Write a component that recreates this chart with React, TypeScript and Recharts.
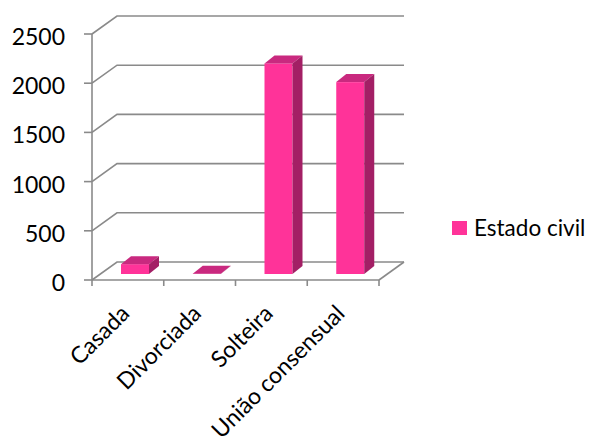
import React from "react";
import { BarChart, Bar, XAxis, YAxis, CartesianGrid, Legend } from "recharts";

const categories = ["Casada", "Divorciada", "Solteira", "União consensual"];
const estadoCivil = [100, 3, 2140, 1950];
const yTicks = [0, 500, 1000, 1500, 2000, 2500];

const data = categories.map((name, i) => ({
  name,
  "Estado civil": estadoCivil[i],
}));

const FONT = "Lato, 'Open Sans', sans-serif";
const GRID = "#8a8a8a";
const FRONT = "#FF3399";
const TOP = "#C9297F";
const SIDE = "#A31F65";

// fake 3d: how far the back wall / bars sit behind the front plane
const WALL_DX = 25;
const WALL_DY = -18;
const BAR_DX = 7;
const BAR_DY = -6;
const DEPTH_X = 10;
const DEPTH_Y = -8;

const PLOT_W = 287;
const BAND = PLOT_W / categories.length;

const GridLine = (props: any) => {
  const { x1, y1, x2 } = props;
  const d = `M${x1},${y1} L${x1 + WALL_DX},${y1 + WALL_DY} L${x2 + WALL_DX},${y1 + WALL_DY}`;
  return <path d={d} fill="none" stroke={GRID} strokeWidth={1.6} />;
};

const Bar3D = (props: any) => {
  const { x, y, width, height } = props;
  const fx = x + BAR_DX;
  const fy = y + BAR_DY;
  const h = Math.max(height, 0);
  return (
    <g>
      <rect x={fx} y={fy} width={width} height={h} fill={FRONT} />
      <polygon
        points={`${fx},${fy} ${fx + DEPTH_X},${fy + DEPTH_Y} ${fx + width + DEPTH_X},${fy + DEPTH_Y} ${fx + width},${fy}`}
        fill={TOP}
      />
      <polygon
        points={`${fx + width},${fy} ${fx + width + DEPTH_X},${fy + DEPTH_Y} ${fx + width + DEPTH_X},${fy + h + DEPTH_Y} ${fx + width},${fy + h}`}
        fill={SIDE}
      />
    </g>
  );
};

const XTick = (props: any) => {
  const { x, y, payload, index, visibleTicksCount } = props;
  const left = x - BAND / 2;
  const right = x + BAND / 2;
  const last = index === visibleTicksCount - 1;
  const ax = x + 3;
  const ay = y + 35;
  return (
    <g>
      <line x1={left} y1={y} x2={left} y2={y + 6} stroke={GRID} strokeWidth={1.6} />
      {last && (
        <>
          <line x1={right} y1={y} x2={right} y2={y + 6} stroke={GRID} strokeWidth={1.6} />
          <line x1={right} y1={y} x2={right + WALL_DX} y2={y + WALL_DY} stroke={GRID} strokeWidth={1.6} />
        </>
      )}
      <text
        x={ax}
        y={ay}
        textAnchor="end"
        transform={`rotate(-45, ${ax}, ${ay})`}
        fontFamily={FONT}
        fontSize={23}
        fill="#000"
      >
        {payload.value}
      </text>
    </g>
  );
};

const YTick = (props: any) => {
  const { x, y, payload } = props;
  return (
    <text x={x} y={y + 11} textAnchor="end" fontFamily={FONT} fontSize={23} fill="#000">
      {payload.value}
    </text>
  );
};

const LegendContent = (props: any) => {
  const item = props.payload && props.payload[0];
  return (
    <div
      style={{
        display: "flex",
        alignItems: "center",
        whiteSpace: "nowrap",
        fontFamily: FONT,
        fontSize: 22.5,
        color: "#000",
      }}
    >
      <span style={{ display: "inline-block", width: 15, height: 14, background: FRONT, marginRight: 7 }} />
      <span>{item ? item.value : "Estado civil"}</span>
    </div>
  );
};

export default function App() {
  return (
    <BarChart
      width={587}
      height={437}
      data={data}
      margin={{ top: 26, right: 216, bottom: 125, left: 24 }}
    >
      <CartesianGrid vertical={false} horizontal={GridLine} />
      <XAxis
        dataKey="name"
        height={40}
        interval={0}
        tickSize={0}
        tickMargin={0}
        axisLine={{ stroke: GRID, strokeWidth: 1.6 }}
        tick={XTick}
      />
      <YAxis
        width={60}
        domain={[0, 2500]}
        ticks={yTicks}
        tickSize={8}
        tickMargin={19}
        axisLine={{ stroke: GRID, strokeWidth: 1.6 }}
        tickLine={{ stroke: GRID, strokeWidth: 1.6 }}
        tick={YTick}
      />
      <Legend
        content={LegendContent}
        layout="horizontal"
        align="center"
        verticalAlign="middle"
        wrapperStyle={{ left: 444, top: 206, width: 140 }}
      />
      <Bar
        dataKey="Estado civil"
        fill={FRONT}
        barSize={28}
        shape={Bar3D}
        isAnimationActive={false}
      />
    </BarChart>
  );
}
